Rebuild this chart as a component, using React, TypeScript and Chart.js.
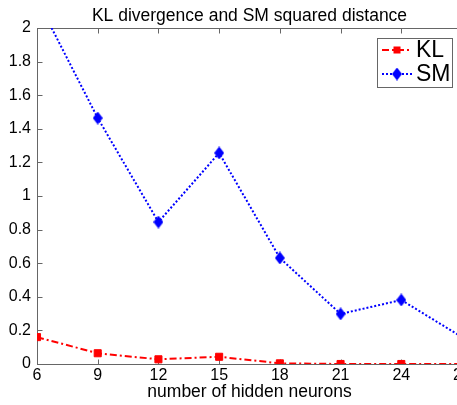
import React, { useEffect, useRef } from 'react';
import { Chart, registerables } from 'chart.js';

Chart.register(...registerables);

// ---- data ----
const hiddenNeurons = [6, 9, 12, 15, 18, 21, 24, 27];
const klValues = [0.16, 0.064, 0.028, 0.043, 0.004, 0.0, 0.0, 0.0];
const smValues = [2.17, 1.464, 0.845, 1.256, 0.631, 0.298, 0.381, 0.16];
const seriesNames = ['KL', 'SM'];
const chartTitle = 'KL divergence and SM squared distance';
const xAxisTitle = 'number of hidden neurons';
const xMin = 6;
const xMax = 27;
const xStep = 3;
const yMin = 0;
const yMax = 2;
const yStep = 0.2;

const FONT = '"Liberation Sans", Arial, Helvetica, sans-serif';
const AXIS_COLOR = '#666666';
const RED = '#ff0000';
const BLUE = '#0000ff';

function makeDiamond(w: number, h: number, color: string): HTMLCanvasElement {
  const c = document.createElement('canvas');
  c.width = w;
  c.height = h;
  const g = c.getContext('2d')!;
  g.fillStyle = color;
  g.beginPath();
  g.moveTo(w / 2, 0);
  g.lineTo(w, h / 2);
  g.lineTo(w / 2, h);
  g.lineTo(0, h / 2);
  g.closePath();
  g.fill();
  return c;
}

export default function App() {
  const ref = useRef<HTMLCanvasElement>(null);

  useEffect(() => {
    const canvas = ref.current;
    if (!canvas) return;
    const diamond = makeDiamond(10, 13, BLUE);

    const framePlugin = {
      id: 'matlabFrame',
      beforeDatasetsDraw(chart: any) {
        const { ctx, chartArea: a, scales } = chart;
        const x = scales.x;
        const y = scales.y;
        ctx.save();
        ctx.strokeStyle = AXIS_COLOR;
        ctx.lineWidth = 1;
        const L = Math.round(a.left) + 0.5;
        const R = Math.round(a.right) + 0.5;
        const T = Math.round(a.top) + 0.5;
        const B = Math.round(a.bottom) + 0.5;
        ctx.strokeRect(L, T, R - L, B - T);
        const tl = 5;
        ctx.beginPath();
        x.ticks.forEach((t: any) => {
          const px = Math.round(x.getPixelForValue(t.value)) + 0.5;
          ctx.moveTo(px, B);
          ctx.lineTo(px, B - tl);
          ctx.moveTo(px, T);
          ctx.lineTo(px, T + tl);
        });
        y.ticks.forEach((t: any) => {
          const py = Math.round(y.getPixelForValue(t.value)) + 0.5;
          ctx.moveTo(L, py);
          ctx.lineTo(L + tl, py);
          ctx.moveTo(R, py);
          ctx.lineTo(R - tl, py);
        });
        ctx.stroke();
        ctx.restore();
      },
      afterDraw(chart: any) {
        const { ctx, chartArea: a } = chart;
        ctx.save();
        // title
        ctx.fillStyle = '#000';
        ctx.font = `17.5px ${FONT}`;
        ctx.textAlign = 'center';
        ctx.textBaseline = 'alphabetic';
        ctx.fillText(chartTitle, (a.left + a.right) / 2, 21);

        // legend
        const bx = 377.5, by = 38.5, bw = 75, bh = 49;
        ctx.fillStyle = '#fff';
        ctx.fillRect(bx, by, bw, bh);
        ctx.strokeStyle = AXIS_COLOR;
        ctx.lineWidth = 1;
        ctx.strokeRect(bx, by, bw, bh);
        const rows = [
          { name: seriesNames[0], y: 50, color: RED, dash: [7, 3, 2, 3], marker: 'rect' },
          { name: seriesNames[1], y: 74, color: BLUE, dash: [2, 2], marker: 'diamond' },
        ];
        rows.forEach((r) => {
          ctx.strokeStyle = r.color;
          ctx.lineWidth = 2;
          ctx.setLineDash(r.dash);
          ctx.beginPath();
          ctx.moveTo(382, r.y);
          ctx.lineTo(412, r.y);
          ctx.stroke();
          ctx.setLineDash([]);
          ctx.fillStyle = r.color;
          if (r.marker === 'rect') {
            ctx.fillRect(393.5, r.y - 3.5, 7, 7);
          } else {
            ctx.drawImage(diamond, 392, r.y - 6.5);
          }
          ctx.fillStyle = '#000';
          ctx.font = `23px ${FONT}`;
          ctx.textAlign = 'left';
          ctx.textBaseline = 'middle';
          ctx.fillText(r.name, 416, r.y + 1);
        });
        ctx.restore();
      },
    };

    const chart = new Chart(canvas, {
      type: 'line',
      data: {
        datasets: [
          {
            label: seriesNames[0],
            data: hiddenNeurons.map((v, i) => ({ x: v, y: klValues[i] })),
            borderColor: RED,
            backgroundColor: RED,
            borderWidth: 2,
            borderDash: [7, 3, 2, 3],
            pointStyle: 'rect',
            pointRadius: 5,
            pointBorderWidth: 1,
            pointBorderColor: RED,
            pointBackgroundColor: RED,
            tension: 0,
            fill: false,
          },
          {
            label: seriesNames[1],
            data: hiddenNeurons.map((v, i) => ({ x: v, y: smValues[i] })),
            borderColor: BLUE,
            backgroundColor: BLUE,
            borderWidth: 2,
            borderDash: [2, 2],
            pointStyle: diamond as any,
            pointRadius: 6,
            tension: 0,
            fill: false,
          },
        ],
      },
      options: {
        animation: false,
        responsive: false,
        events: [],
        layout: { padding: { top: 28, right: 18, bottom: 0, left: 0 } },
        plugins: {
          legend: { display: false },
          title: { display: false },
          tooltip: { enabled: false },
        },
        scales: {
          x: {
            type: 'linear',
            min: xMin,
            max: xMax,
            ticks: {
              stepSize: xStep,
              color: '#000',
              font: { family: FONT, size: 16 },
              padding: 2,
              maxRotation: 0,
              autoSkip: false,
            },
            grid: { display: false, drawTicks: false },
            border: { display: false },
            title: {
              display: true,
              text: xAxisTitle,
              color: '#000',
              font: { family: FONT, size: 17.5 },
              padding: { top: 0, bottom: 2 },
            },
            afterFit(scale: any) {
              scale.height = 41;
              scale.paddingLeft = 0;
              scale.paddingRight = 0;
            },
          },
          y: {
            type: 'linear',
            min: yMin,
            max: yMax,
            ticks: {
              stepSize: yStep,
              color: '#000',
              font: { family: FONT, size: 16 },
              padding: 6,
              callback: (v: any) => String(Number(Number(v).toFixed(1))),
            },
            grid: { display: false, drawTicks: false },
            border: { display: false },
            afterFit(scale: any) {
              scale.width = 37;
              scale.paddingTop = 0;
              scale.paddingBottom = 0;
            },
          },
        },
      },
      plugins: [framePlugin],
    });

    return () => chart.destroy();
  }, []);

  return (
    <div
      style={{
        position: 'fixed',
        left: 0,
        top: 0,
        width: 457,
        height: 405,
        overflow: 'hidden',
        background: '#fff',
      }}
    >
      <canvas ref={ref} width={480} height={405} style={{ display: 'block' }} />
    </div>
  );
}
